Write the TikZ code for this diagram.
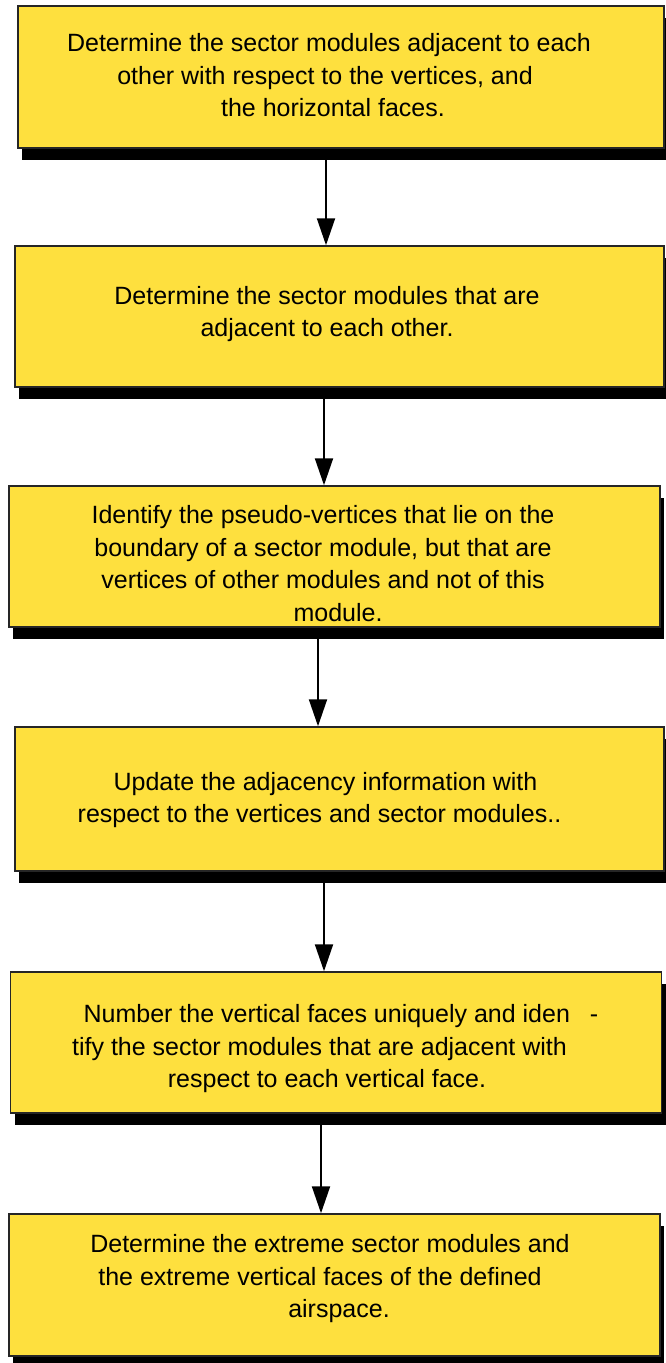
\documentclass[tikz,border=0pt]{standalone}
\usepackage{fontspec}
\setmainfont{Liberation Sans}
\definecolor{boxyellow}{RGB}{254, 224, 62}
\usetikzlibrary{arrows.meta, shadows}

\tikzset{
  stepbox/.style={draw=black!85, line width=1.5pt, fill=boxyellow, inner sep=0pt,
    drop shadow={shadow xshift=4pt, shadow yshift=-12pt, fill=black, opacity=1}},
  steptext/.style={align=center, inner sep=0pt, font=\fontsize{25}{32.5}\selectfont},
  flow/.style={line width=2pt, -{Triangle[length=27pt, width=18pt]}}
}
% padding that survives the line breaks
\newcommand{\gapfill}[1]{\rule{#1}{0pt}}

\begin{document}
\begin{tikzpicture}[x=1pt, y=-1pt]
  \useasboundingbox (0,0) rectangle (665,1363);

  % Boxes
  \node[stepbox, minimum width=646pt, minimum height=142pt] (b1) at (341, 77) {};
  \node[stepbox, minimum width=649pt, minimum height=141pt] (b2) at (339.5, 316.5) {};
  \node[stepbox, minimum width=651pt, minimum height=141pt] (b3) at (334.5, 556.5) {};
  \node[stepbox, minimum width=649pt, minimum height=144pt] (b4) at (339.5, 799) {};
  \node[stepbox, minimum width=651pt, minimum height=141pt] (b5) at (336, 1042.5) {};
  \node[stepbox, minimum width=651pt, minimum height=142pt] (b6) at (334.5, 1285) {};

  % Texts
  \node[steptext] (t1) at (329, 75.5) {Determine the sector modules adjacent to each\\
    other with respect to the vertices, and\gapfill{8pt}\\
    \gapfill{8pt}the horizontal faces.};
  \node[steptext] (t2) at (327, 314) {Determine the sector modules that are\\
    adjacent to each other.};
  \node[steptext] (t3) at (323, 563.5) {Identify the pseudo-vertices that lie on the\\
    boundary of a sector module, but that are\\
    vertices of other modules and not of this\\
    \gapfill{30pt}module.};
  \node[steptext] (t4) at (322.5, 800) {\gapfill{6pt}Update the adjacency information with\\
    respect to the vertices and sector modules..\gapfill{6pt}};
  \node[steptext] (t5) at (327, 1049) {\gapfill{28pt}Number the vertical faces uniquely and iden\hspace{20pt}-\\
    tify the sector modules that are adjacent with\gapfill{15pt}\\
    respect to each vertical face.};
  \node[steptext] (t6) at (327, 1279) {\gapfill{6pt}Determine the extreme sector modules and\\
    the extreme vertical faces of the defined\gapfill{14pt}\\
    \gapfill{24pt}airspace.};

  % Arrows
  \draw[flow] (326,0 |- b1.south) -- (326,0 |- b2.north);
  \draw[flow] (324,0 |- b2.south) -- (324,0 |- b3.north);
  \draw[flow] (318,0 |- b3.south) -- (318,0 |- b4.north);
  \draw[flow] (324,0 |- b4.south) -- (324,0 |- b5.north);
  \draw[flow] (321,0 |- b5.south) -- (321,0 |- b6.north);
\end{tikzpicture}
\end{document}
